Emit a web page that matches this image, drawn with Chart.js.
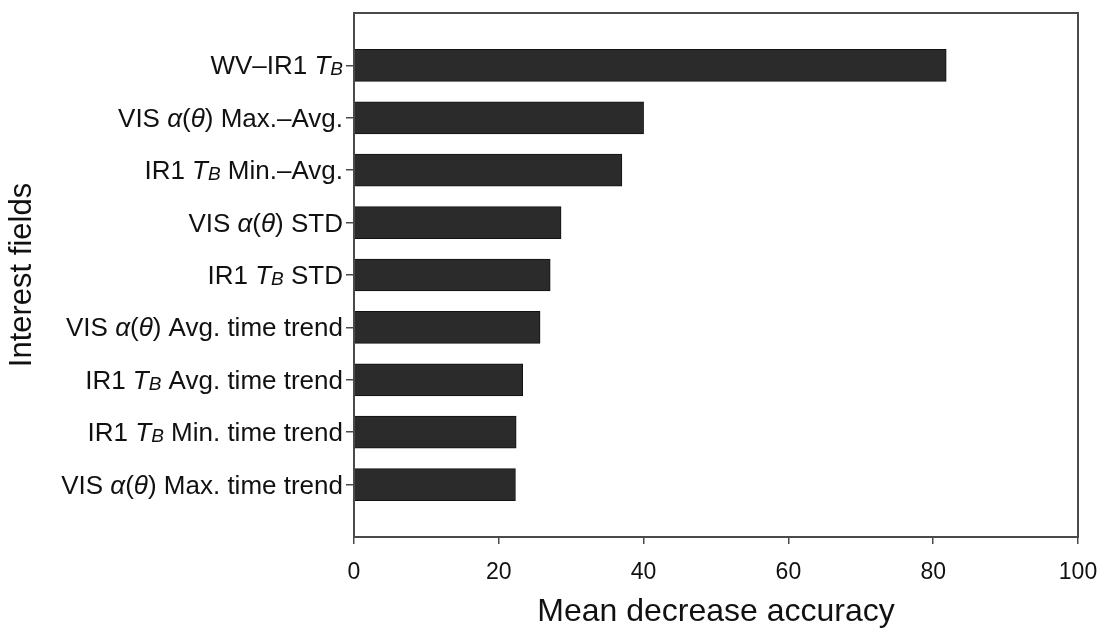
<!DOCTYPE html>
<html>
<head>
<meta charset="utf-8">
<script src="https://cdn.jsdelivr.net/npm/chart.js@4"></script>
<style>
    html, body { margin: 0; padding: 0; background: #fff; }
</style>
</head>
<body>
<canvas id="importanceChart" width="1100" height="635"></canvas>
<script>
// Interest fields, top to bottom (T_B = T with subscript B)
const fields = [
    'WV–IR1 T_B',
    'VIS α(θ) Max.–Avg.',
    'IR1 T_B Min.–Avg.',
    'VIS α(θ) STD',
    'IR1 T_B STD',
    'VIS α(θ) Avg. time trend',
    'IR1 T_B Avg. time trend',
    'IR1 T_B Min. time trend',
    'VIS α(θ) Max. time trend'
];
const meanDecreaseAccuracy = [81.8, 40, 37, 28.6, 27.1, 25.7, 23.3, 22.4, 22.3];
const xTicks = [0, 20, 40, 60, 80, 100];

const FONT = '"Liberation Sans", Arial, Helvetica, sans-serif';
const TEXT_COLOR = '#111';
const AXIS_COLOR = '#4a4a4a';

// split a label into plain / italic / subscript pieces
function splitLabel(text) {
    const parts = [];
    text.split(/(T_B|α|θ)/).forEach(p => {
        if (!p) return;
        if (p === 'T_B') {
            parts.push({ s: 'T', italic: true });
            parts.push({ s: 'B', italic: true, sub: true });
        } else if (p === 'α' || p === 'θ') {
            parts.push({ s: p, italic: true });
        } else {
            parts.push({ s: p });
        }
    });
    return parts;
}

function partFont(p) {
    if (p.sub) return `italic 19px ${FONT}`;
    if (p.italic) return `italic 26px ${FONT}`;
    return `26px ${FONT}`;
}

function drawRichLabel(ctx, text, right, y) {
    const parts = splitLabel(text);
    let total = 0;
    parts.forEach(p => {
        ctx.font = partFont(p);
        p.w = ctx.measureText(p.s).width;
        total += p.w;
    });
    let x = right - total;
    ctx.textAlign = 'left';
    ctx.textBaseline = 'alphabetic';
    ctx.fillStyle = TEXT_COLOR;
    parts.forEach(p => {
        ctx.font = partFont(p);
        ctx.fillText(p.s, x, y + 9 + (p.sub ? 1 : 0));
        x += p.w;
    });
}

const frameAndLabels = {
    id: 'frameAndLabels',
    afterDraw(chart) {
        const { ctx, chartArea, scales } = chart;
        ctx.save();
        ctx.strokeStyle = AXIS_COLOR;
        ctx.lineWidth = 2;
        ctx.strokeRect(chartArea.left, chartArea.top,
            chartArea.right - chartArea.left, chartArea.bottom - chartArea.top);
        fields.forEach((f, i) => {
            drawRichLabel(ctx, f, chartArea.left - 11, scales.y.getPixelForValue(i));
        });
        ctx.restore();
    }
};

const ctx = document.getElementById('importanceChart').getContext('2d');
new Chart(ctx, {
    type: 'bar',
    data: {
        datasets: [{
            data: meanDecreaseAccuracy.map((v, i) => ({ x: v, y: i })),
            backgroundColor: '#2b2b2b',
            borderColor: '#111',
            borderWidth: 1,
            barThickness: 32
        }]
    },
    options: {
        indexAxis: 'y',
        responsive: false,
        animation: false,
        devicePixelRatio: 1,
        layout: { padding: { top: 13, right: 22, left: 0, bottom: 0 } },
        plugins: {
            legend: { display: false },
            tooltip: { enabled: false }
        },
        scales: {
            x: {
                type: 'linear',
                min: 0,
                max: 100,
                afterBuildTicks: scale => {
                    scale.ticks = xTicks.map(v => ({ value: v }));
                },
                afterFit: scale => {
                    scale.height = 98;
                    scale.paddingLeft = 0;
                    scale.paddingRight = 0;
                },
                grid: {
                    drawOnChartArea: false,
                    drawTicks: true,
                    tickLength: 7,
                    color: AXIS_COLOR,
                    lineWidth: 1.5
                },
                border: { color: AXIS_COLOR, width: 2 },
                ticks: {
                    color: TEXT_COLOR,
                    font: { family: FONT, size: 23 },
                    padding: 15
                },
                title: {
                    display: true,
                    text: 'Mean decrease accuracy',
                    color: TEXT_COLOR,
                    font: { family: FONT, size: 32 },
                    padding: { top: 9 }
                }
            },
            y: {
                type: 'linear',
                reverse: true,
                offset: false,
                min: -1,
                max: 9,
                afterBuildTicks: scale => {
                    scale.ticks = fields.map((f, i) => ({ value: i }));
                },
                afterFit: scale => {
                    scale.width = 354;
                    scale.paddingTop = 0;
                    scale.paddingBottom = 0;
                },
                grid: {
                    offset: false,
                    drawOnChartArea: false,
                    drawTicks: true,
                    tickLength: 8,
                    color: AXIS_COLOR,
                    lineWidth: 1.5
                },
                border: { color: AXIS_COLOR, width: 2 },
                ticks: {
                    callback: () => '',
                    font: { family: FONT, size: 26 }
                },
                title: {
                    display: true,
                    text: 'Interest fields',
                    color: TEXT_COLOR,
                    font: { family: FONT, size: 31 },
                    padding: { top: 4, bottom: 0 }
                }
            }
        }
    },
    plugins: [frameAndLabels]
});
</script>
</body>
</html>
